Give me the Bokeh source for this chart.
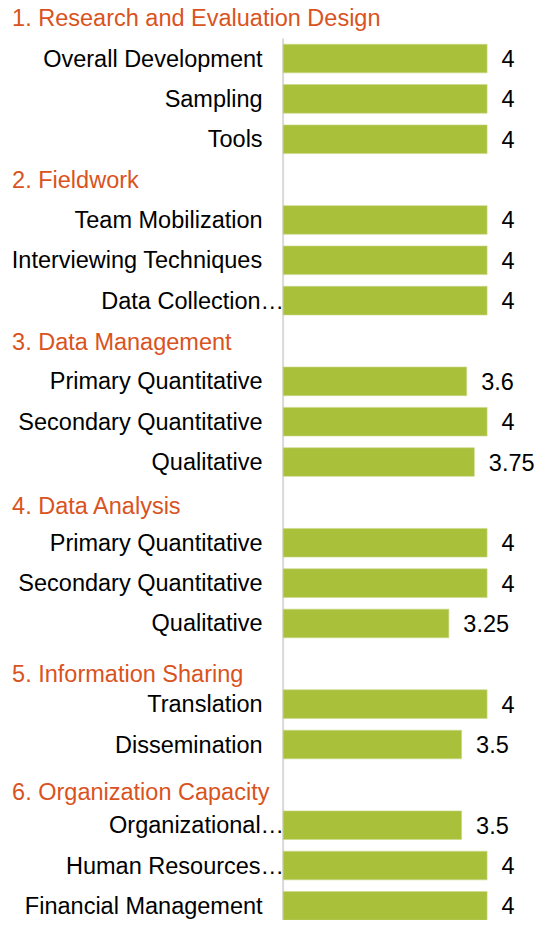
from bokeh.plotting import figure
from bokeh.models import ColumnDataSource, Range1d
from bokeh.core.properties import value
from bokeh.embed import file_html
from bokeh.resources import INLINE

# ---------------- data ----------------
section_titles = [
    "1. Research and Evaluation Design",
    "2. Fieldwork",
    "3. Data Management",
    "4. Data Analysis",
    "5. Information Sharing",
    "6. Organization Capacity",
]
section_sizes = [3, 3, 3, 3, 2, 3]
categories = [
    "Overall Development", "Sampling", "Tools",
    "Team Mobilization", "Interviewing Techniques", "Data Collection\u2026",
    "Primary Quantitative", "Secondary Quantitative", "Qualitative",
    "Primary Quantitative", "Secondary Quantitative", "Qualitative",
    "Translation", "Dissemination",
    "Organizational\u2026", "Human Resources\u2026", "Financial Management",
]
scores = [4, 4, 4,
          4, 4, 4,
          3.6, 4, 3.75,
          4, 4, 3.25,
          4, 3.5,
          3.5, 4, 4]

# ---------------- layout ----------------
W, H = 539, 920
FONT = "Liberation Sans"
FS = "23.5px"
header_nudge_px = [0, 0, 1, 4, 10, 7]

# slot positions: each section takes one slot for its title then one per item
header_slots, item_slots = [], []
k = 0
for n in section_sizes:
    header_slots.append(k)
    k += 1
    for _ in range(n):
        item_slots.append(k)
        k += 1

# truncated labels let their ellipsis run up to the axis line
label_dx = [1.0 if c.endswith("\u2026") else -20.5 for c in categories]

px_per_unit = 51.0
x0_px = 282.6
slot_px = 40.35
top_px = 17.7

x_range = Range1d(-x0_px / px_per_unit, (W - x0_px) / px_per_unit)
y_range = Range1d((H - top_px) / slot_px, -top_px / slot_px)

p = figure(width=W, height=H, x_range=x_range, y_range=y_range,
           output_backend="svg", toolbar_location=None,
           min_border=0, outline_line_color=None,
           background_fill_color="white", border_fill_color="white")
p.axis.visible = False
p.grid.visible = False

# vertical axis line
p.segment(x0=[0], y0=[0.5], x1=[0], y1=[k + 0.5], line_color="#D9D9D9", line_width=2)

src = ColumnDataSource(dict(
    y=item_slots,
    v=scores,
    cat=categories,
    lab=[f"{s:g}" for s in scores],
    dx=label_dx,
))

p.hbar(y="y", left=0, right="v", height=0.71, source=src,
       fill_color="#A9C03B", line_color="#C9D98A", line_width=0.6)

p.text(x=0, y="y", text="cat", source=src, x_offset="dx",
       text_align="right", text_baseline="middle",
       text_font=value(FONT), text_font_size=FS, text_color="#000000")

p.text(x="v", y="y", text="lab", source=src, x_offset=14.5,
       text_align="left", text_baseline="middle",
       text_font=value(FONT), text_font_size=FS, text_color="#000000")

hsrc = ColumnDataSource(dict(
    y=header_slots,
    t=section_titles,
    dy=header_nudge_px,
))
p.text(x=0, y="y", text="t", source=hsrc, x_offset=-271, y_offset="dy",
       text_align="left", text_baseline="middle",
       text_font=value(FONT), text_font_size=FS, text_color="#D9531E")

open("out.html", "w").write(file_html(p, INLINE))
